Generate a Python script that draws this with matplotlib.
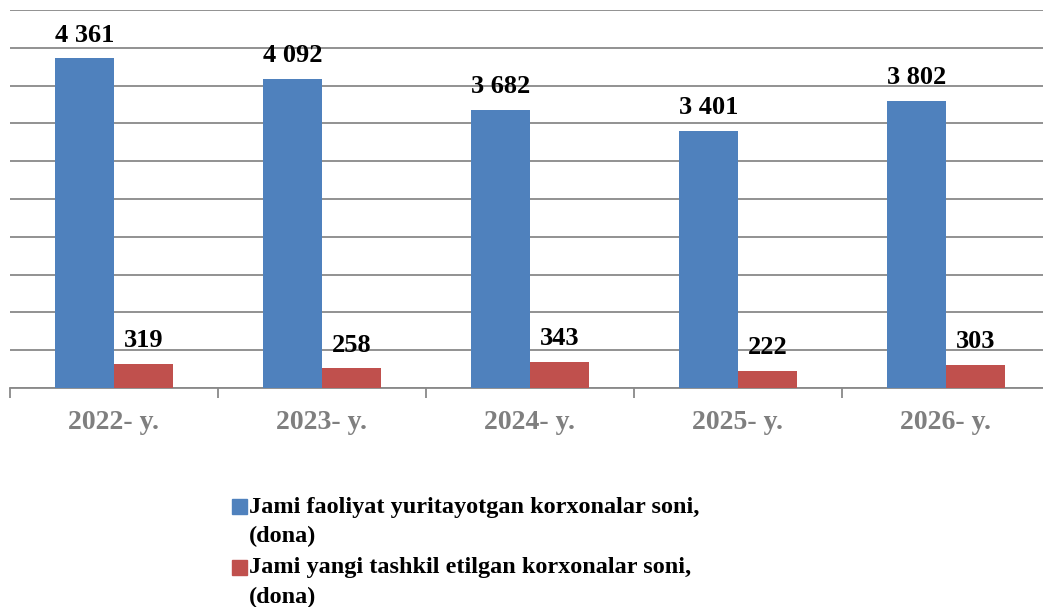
import matplotlib
matplotlib.use("Agg")
import matplotlib.pyplot as plt
import numpy as np
from matplotlib.patches import Rectangle

years = ["2022- y.", "2023- y.", "2024- y.", "2025- y.", "2026- y."]
active = [4361, 4092, 3682, 3401, 3802]
new = [319, 258, 343, 222, 303]
labels = ["Jami faoliyat yuritayotgan korxonalar soni,\n(dona)",
          "Jami yangi tashkil etilgan korxonalar soni,\n(dona)"]

BLUE = "#4F81BD"
RED = "#C0504D"
GRID = "#898989"

plt.rcParams["font.family"] = "Liberation Serif"
plt.rcParams["font.weight"] = "bold"

fig = plt.figure(figsize=(10.43, 6.07), dpi=100)
ax = fig.add_axes([10 / 1043, 219 / 607, 1040 / 1043, 378 / 607])

x = np.arange(len(years))
w = 0.285
b1 = ax.bar(x - w / 2, active, w, color=BLUE, zorder=3)
b2 = ax.bar(x + w / 2, new, w, color=RED, zorder=3)

def fmt(v):
	return f"{v:,}".replace(",", " ")

for bars, vals in ((b1, active), (b2, new)):
	for r, v in zip(bars, vals):
		ax.annotate(fmt(v), (r.get_x() + r.get_width() / 2, v),
			xytext=(0, 8.5), textcoords="offset points",
			ha="center", va="bottom", fontsize=19, fontweight="bold", color="black")

ax.set_xlim(-0.5, len(years) - 0.5)
ax.set_ylim(0, 5000)
ax.set_yticks(np.arange(0, 5001, 500))
ax.yaxis.grid(True, color=GRID, linewidth=1.3, zorder=0)
ax.tick_params(axis="y", left=False, labelleft=False)

ax.set_xticks(x)
ax.set_xticklabels(years, fontsize=20, fontweight="bold", color="#7F7F7F")
ax.set_xticks(np.arange(-0.5, len(years), 1), minor=True)
ax.tick_params(axis="x", which="major", length=0, pad=16)
ax.tick_params(axis="x", which="minor", length=7, color=GRID, width=1.3)

for s in ("top", "right", "left"):
	ax.spines[s].set_visible(False)
ax.spines["bottom"].set_color(GRID)
ax.spines["bottom"].set_linewidth(1.3)

# legend
for i, (lab, col) in enumerate(zip(labels, (BLUE, RED))):
	y0 = 507 + i * 61
	fig.patches.append(Rectangle((232 / 1043, 1 - (y0 + 7) / 607), 15 / 1043, 15 / 607,
		transform=fig.transFigure, color=col))
	lines = lab.split("\n")
	for j, t in enumerate(lines):
		fig.text(249 / 1043, 1 - (y0 + j * 29) / 607, t, fontsize=17.5,
			fontweight="bold", va="center", ha="left")

fig.savefig("out.png", dpi=100)
